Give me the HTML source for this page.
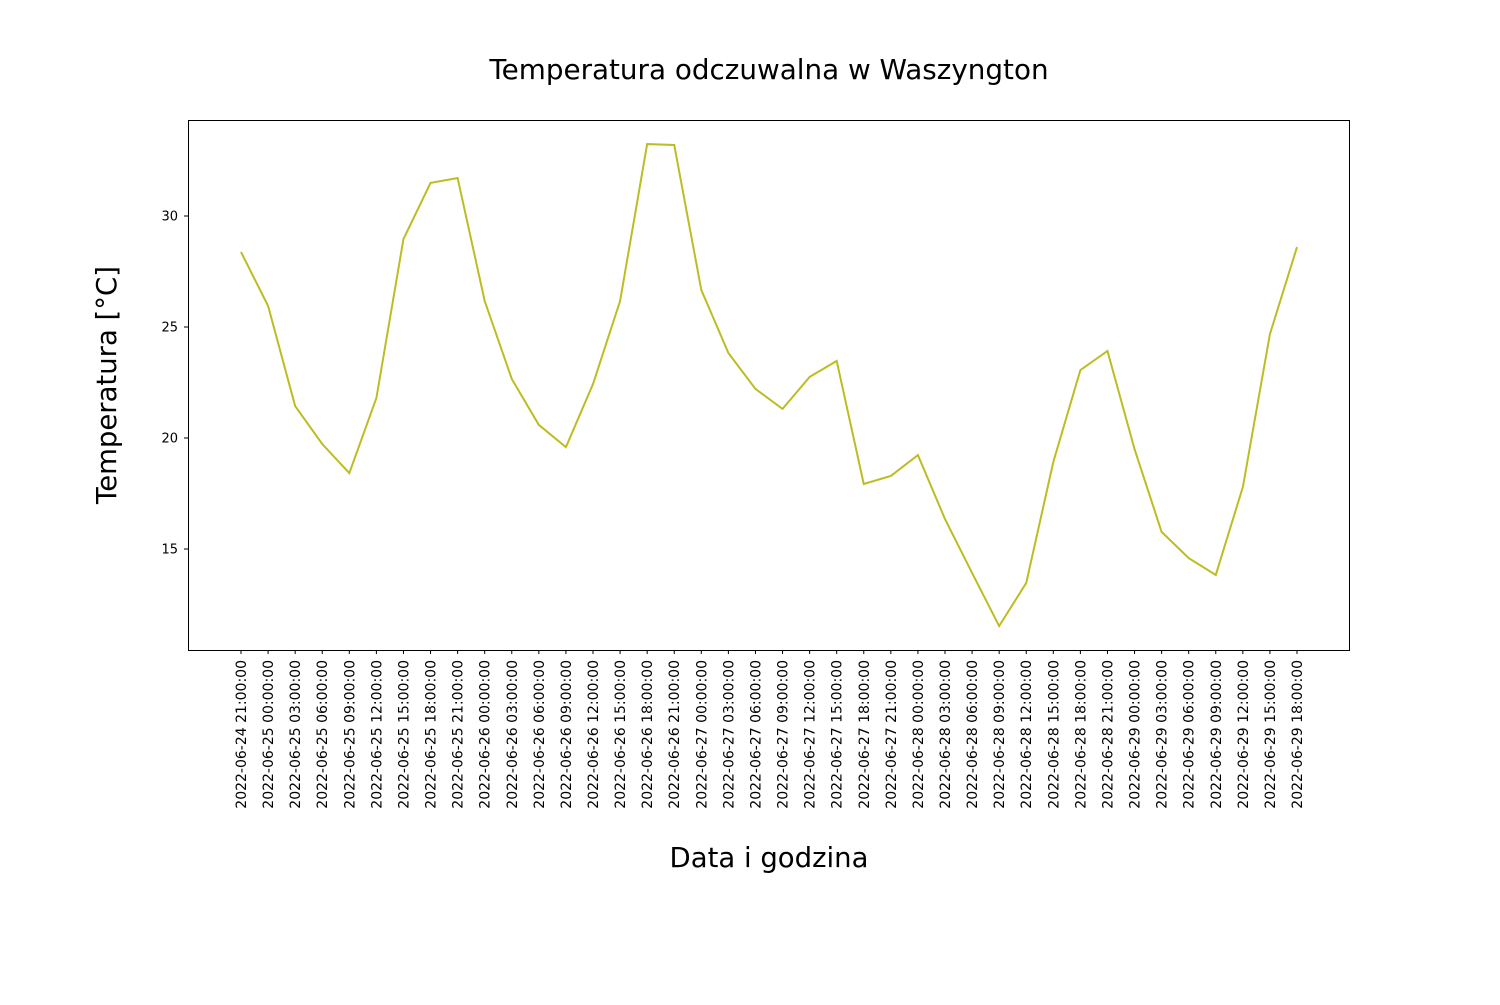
<!DOCTYPE html>
<html><head><meta charset="utf-8"><style>
body{margin:0;background:#fff;}
svg text{font-family:"DejaVu Sans","Liberation Sans",sans-serif;fill:#000;}
</style></head><body>
<svg id="chart" width="1500" height="1000" xmlns="http://www.w3.org/2000/svg">
<rect width="1500" height="1000" fill="#fff"/>
<text x="769" y="79" font-size="27.8" text-anchor="middle">Temperatura odczuwalna w Waszyngton</text>
<text transform="translate(116,385) rotate(-90)" font-size="27.5" text-anchor="middle">Temperatura [°C]</text>
<text x="769" y="867" font-size="27.5" text-anchor="middle">Data i godzina</text>
<g id="yticks"></g><g id="xticks"></g><g id="series"></g>
<rect x="188.5" y="120.5" width="1161" height="530" fill="none" stroke="#000" stroke-width="1"/>
</svg>
<script>
const labels=["2022-06-24 21:00:00","2022-06-25 00:00:00","2022-06-25 03:00:00","2022-06-25 06:00:00","2022-06-25 09:00:00","2022-06-25 12:00:00","2022-06-25 15:00:00","2022-06-25 18:00:00","2022-06-25 21:00:00","2022-06-26 00:00:00","2022-06-26 03:00:00","2022-06-26 06:00:00","2022-06-26 09:00:00","2022-06-26 12:00:00","2022-06-26 15:00:00","2022-06-26 18:00:00","2022-06-26 21:00:00","2022-06-27 00:00:00","2022-06-27 03:00:00","2022-06-27 06:00:00","2022-06-27 09:00:00","2022-06-27 12:00:00","2022-06-27 15:00:00","2022-06-27 18:00:00","2022-06-27 21:00:00","2022-06-28 00:00:00","2022-06-28 03:00:00","2022-06-28 06:00:00","2022-06-28 09:00:00","2022-06-28 12:00:00","2022-06-28 15:00:00","2022-06-28 18:00:00","2022-06-28 21:00:00","2022-06-29 00:00:00","2022-06-29 03:00:00","2022-06-29 06:00:00","2022-06-29 09:00:00","2022-06-29 12:00:00","2022-06-29 15:00:00","2022-06-29 18:00:00"];
const temps=[28.38,25.95,21.44,19.73,18.42,21.8,28.96,31.49,31.71,26.17,22.66,20.59,19.59,22.43,26.17,33.24,33.2,26.67,23.83,22.21,21.31,22.75,23.47,17.93,18.29,19.23,16.35,13.92,11.53,13.47,18.92,23.06,23.92,19.5,15.77,14.59,13.83,17.79,24.68,28.6];
const yTicks=[15,20,25,30];
const NS="http://www.w3.org/2000/svg";
function xPos(i){return 241+i*(1297-241)/(labels.length-1);}
function yPos(v){return 438-(v-20)*22.2;}
function mk(tag,attrs,parent){const e=document.createElementNS(NS,tag);for(const k in attrs)e.setAttribute(k,attrs[k]);parent.appendChild(e);return e;}
const yg=document.getElementById('yticks');
yTicks.forEach(v=>{const y=yPos(v);
 const l=mk('line',{x1:184,x2:188,y1:y,y2:y,stroke:'#000'},yg);
 
 
 const t=mk('text',{x:178,y:y+4.5,'font-size':13,'text-anchor':'end'},yg);t.textContent=v;
 
 
});
const xg=document.getElementById('xticks');
labels.forEach((s,i)=>{const x=xPos(i);
 const l=mk('line',{x1:x,x2:x,y1:650,y2:654,stroke:'#000'},xg);
 
 
 const t=mk('text',{transform:`translate(${x+5},660) rotate(-90)`,'font-size':14,'text-anchor':'end'},xg);t.textContent=s;
 
 
});
const p=mk('polyline',{points:temps.map((v,i)=>xPos(i)+','+yPos(v)).join(' '),fill:'none',stroke:'#bcbd22','stroke-width':2},document.getElementById('series'));


</script>
</body></html>
